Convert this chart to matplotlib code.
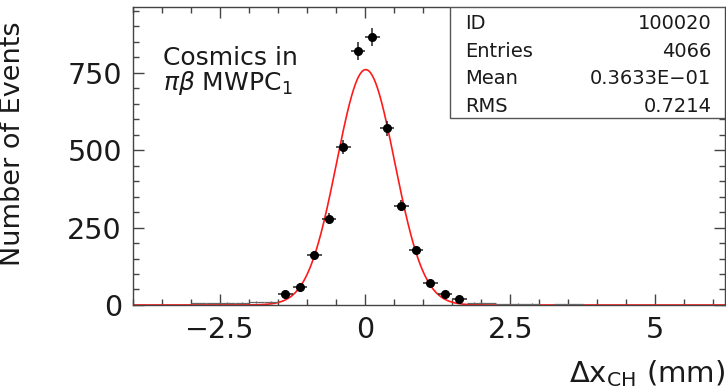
import numpy as np
import matplotlib
matplotlib.use("Agg")
import matplotlib.pyplot as plt
from matplotlib.ticker import MultipleLocator

plt.rcParams["font.family"] = "DejaVu Sans"
plt.rcParams["mathtext.fontset"] = "dejavusans"

# binned residuals, 0.25 mm bins (fitted region)
bin_centers = [-1.375, -1.125, -0.875, -0.625, -0.375, -0.125, 0.125,
               0.375, 0.625, 0.875, 1.125, 1.375, 1.625]
counts = [35, 59, 161, 279, 511, 820, 866, 571, 320, 178, 70, 35, 18]

# sparse tail bins outside the fitted region
tail_centers = [-2.875, -2.625, -2.375, -2.125, -1.875, -1.625,
                1.875, 2.125, 2.375, 2.625, 2.875, 3.375, 3.625]
tail_counts = [5, 5, 7, 8, 9, 9, 8, 5, 3, 4, 4, 3, 3]
bin_width = 0.25

# gaussian fit parameters
fit_amp = 760.0
fit_mean = 0.01
fit_sigma = 0.50

# statistics box
stat_names = ["ID", "Entries", "Mean", "RMS"]
stat_values = ["100020", "4066", "0.3633E\u221201", "0.7214"]

xmin, xmax = -4.0, 6.2
ymax = 962

fig = plt.figure(figsize=(7.26, 3.91), dpi=100)
ax = fig.add_axes([0.1832, 0.22, 0.8154, 0.762])

txt = "#1a1a1a"

# fit curve over whole range
xf = np.linspace(xmin, xmax, 1200)
yf = fit_amp * np.exp(-0.5 * ((xf - fit_mean) / fit_sigma) ** 2)
ax.plot(xf, yf, color="#ff1a1a", lw=1.2, zorder=2)

tc = np.array(tail_counts, dtype=float)
ax.errorbar(tail_centers, tc, xerr=bin_width / 2, yerr=np.sqrt(tc),
            fmt="none", ecolor="#666666", elinewidth=0.9, zorder=3)

c = np.array(counts, dtype=float)
ax.errorbar(bin_centers, c, xerr=bin_width / 2, yerr=np.sqrt(c),
            fmt="o", color="black", ms=5.5, ecolor="#222222",
            elinewidth=1.1, zorder=4)

ax.set_xlim(xmin, xmax)
ax.set_ylim(0, ymax)

ax.xaxis.set_major_locator(MultipleLocator(2.5))
ax.xaxis.set_minor_locator(MultipleLocator(0.5))
ax.yaxis.set_major_locator(MultipleLocator(250))
ax.yaxis.set_minor_locator(MultipleLocator(50))
ax.tick_params(which="both", direction="in", top=True, right=True,
               colors="#444444", labelcolor=txt, labelsize=20.5)
ax.tick_params(which="major", length=8, width=1.0)
ax.tick_params(which="minor", length=4, width=1.0)
ax.tick_params(axis="x", pad=8)
ax.tick_params(axis="y", pad=8)
ax.xaxis.set_major_formatter(plt.FuncFormatter(
    lambda v, p: ("%g" % v).replace("-", "\u2212")))
for s in ax.spines.values():
    s.set_color("#444444")
    s.set_linewidth(1.0)

ax.set_ylabel("Number of Events", fontsize=19.5, color=txt)
ax.yaxis.set_label_coords(-0.18, 0.54)
ax.set_xlabel(r"$\Delta$x$_{\mathregular{CH}}$ (mm)", fontsize=21,
              color=txt, ha="right")
ax.xaxis.set_label_coords(1.0, -0.18)

ax.text(0.051, 0.805, "Cosmics in", transform=ax.transAxes, fontsize=18,
        color=txt, va="baseline")
ax.text(0.051, 0.72, r"$\pi\beta$ MWPC$_{\mathregular{1}}$",
        transform=ax.transAxes, fontsize=18, color=txt, va="baseline")

# stats box in the top-right corner
bx0 = (449.7 - 133) / 592.0
by0 = (305 - 118.3) / 298.0
box = plt.Rectangle((bx0, by0), 1.0 - bx0, 1.0 - by0, transform=ax.transAxes,
                    fill=True, facecolor="white", edgecolor="#555555",
                    lw=1.0, zorder=5)
ax.add_patch(box)
row_y = [29, 56.5, 84, 111.5]
for name, val, yp in zip(stat_names, stat_values, row_y):
    fy = (305 - yp) / 298.0
    ax.text((464.7 - 133) / 592.0, fy, name, transform=ax.transAxes,
            fontsize=14, color=txt, va="baseline", zorder=6)
    ax.text((711.3 - 133) / 592.0, fy, val, transform=ax.transAxes,
            fontsize=14, color=txt, va="baseline", ha="right", zorder=6)

fig.savefig("out.png", dpi=100)
